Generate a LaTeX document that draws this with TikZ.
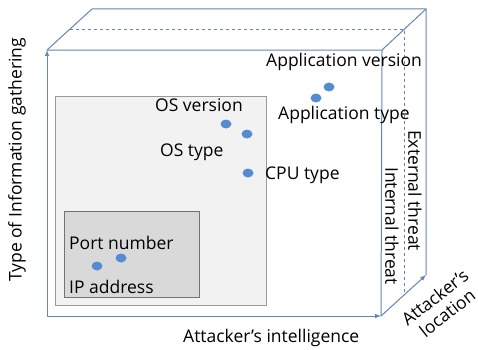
\documentclass[tikz,border=0pt]{standalone}
\usepackage{fontspec}
\setmainfont{Open Sans}
\usepackage{tikz}
\usetikzlibrary{shapes,arrows}
\definecolor{edgeblue}{RGB}{100,134,178}
\definecolor{dotblue}{RGB}{84,141,207}
\tikzstyle{edge} = [draw=edgeblue, line width=1pt]
\tikzstyle{axis} = [edge, ->, >=latex]
\tikzstyle{midline} = [draw=edgeblue, line width=0.8pt, dashed]
\tikzstyle{dot} = [ellipse, minimum width=11pt, minimum height=9pt, inner sep=0pt, fill=dotblue]
\tikzstyle{txt} = [inner sep=0pt, anchor=west, font=\fontsize{17.5}{20}\selectfont]

\begin{document}
\begin{tikzpicture}[x=1pt,y=1pt]
\useasboundingbox (0,0) rectangle (478,349);
% corners of the cube
\coordinate (o) at (47,33);
\coordinate (ftl) at (47,299);
\coordinate (ftr) at (382,299);
\coordinate (fbr) at (381,33);
\coordinate (btl) at (92,340);
\coordinate (btr) at (426,340);
\coordinate (bbr) at (426,74);
\coordinate (mtl) at (69.5,319.5);
\coordinate (mtr) at (404,319.5);
\coordinate (mbr) at (404,54);

% nested regions
\node (outer) [rectangle, draw=gray!80, fill=gray!10, line width=0.8pt, minimum width=211pt, minimum height=209pt, inner sep=0pt] at (160.5,148.5) {};
\node (inner) [rectangle, draw=gray!90!black, fill=gray!30, line width=0.8pt, minimum width=135pt, minimum height=86pt, inner sep=0pt] at (131.5,95) {};

% cube edges
\draw [edge] (ftl) -- (ftr) -- (fbr);
\draw [edge] (ftl) -- (btl) -- (btr) -- (bbr);
\draw [edge] (ftr) -- (btr);
\draw [midline] (mtl) -- (mtr) -- (mbr);
\draw [axis] (o) -- (ftl);
\draw [axis] (o) -- (fbr);
\draw [axis] (fbr) -- (bbr);

% data points
\node (appver) [dot] at (329,262) {};
\node (apptype) [dot] at (316,251) {};
\node (osver) [dot] at (226,225) {};
\node (ostype) [dot] at (247,215) {};
\node (cpu) [dot] at (248,176) {};
\node (ip) [dot] at (97,83) {};
\node (port) [dot] at (121,91) {};

% labels
\node (appverlbl) [txt] at (266,287) {Application version};
\node (apptypelbl) [txt] at (278,234) {Application type};
\node (osverlbl) [txt] at (155,244) {OS version};
\node (ostypelbl) [txt] at (160,197) {OS type};
\node (cpulbl) [txt] at (265,174) {CPU type};
\node (portlbl) [txt] at (69,106) {Port number};
\node (iplbl) [txt] at (69,62) {IP address};
\node (xlbl) [txt] at (183,11) {Attacker’s intelligence};
\node (ylbl) [txt, rotate=90] at (17,67) {Type of Information gathering};
\node (extlbl) [txt, rotate=-90] at (415,219) {External threat};
\node (intlbl) [txt, rotate=-90] at (392,182) {Internal threat};
\node (zlbl) [txt, anchor=center, rotate=38, align=center] at (441,44) {Attacker’s\\location};
\end{tikzpicture}
\end{document}
